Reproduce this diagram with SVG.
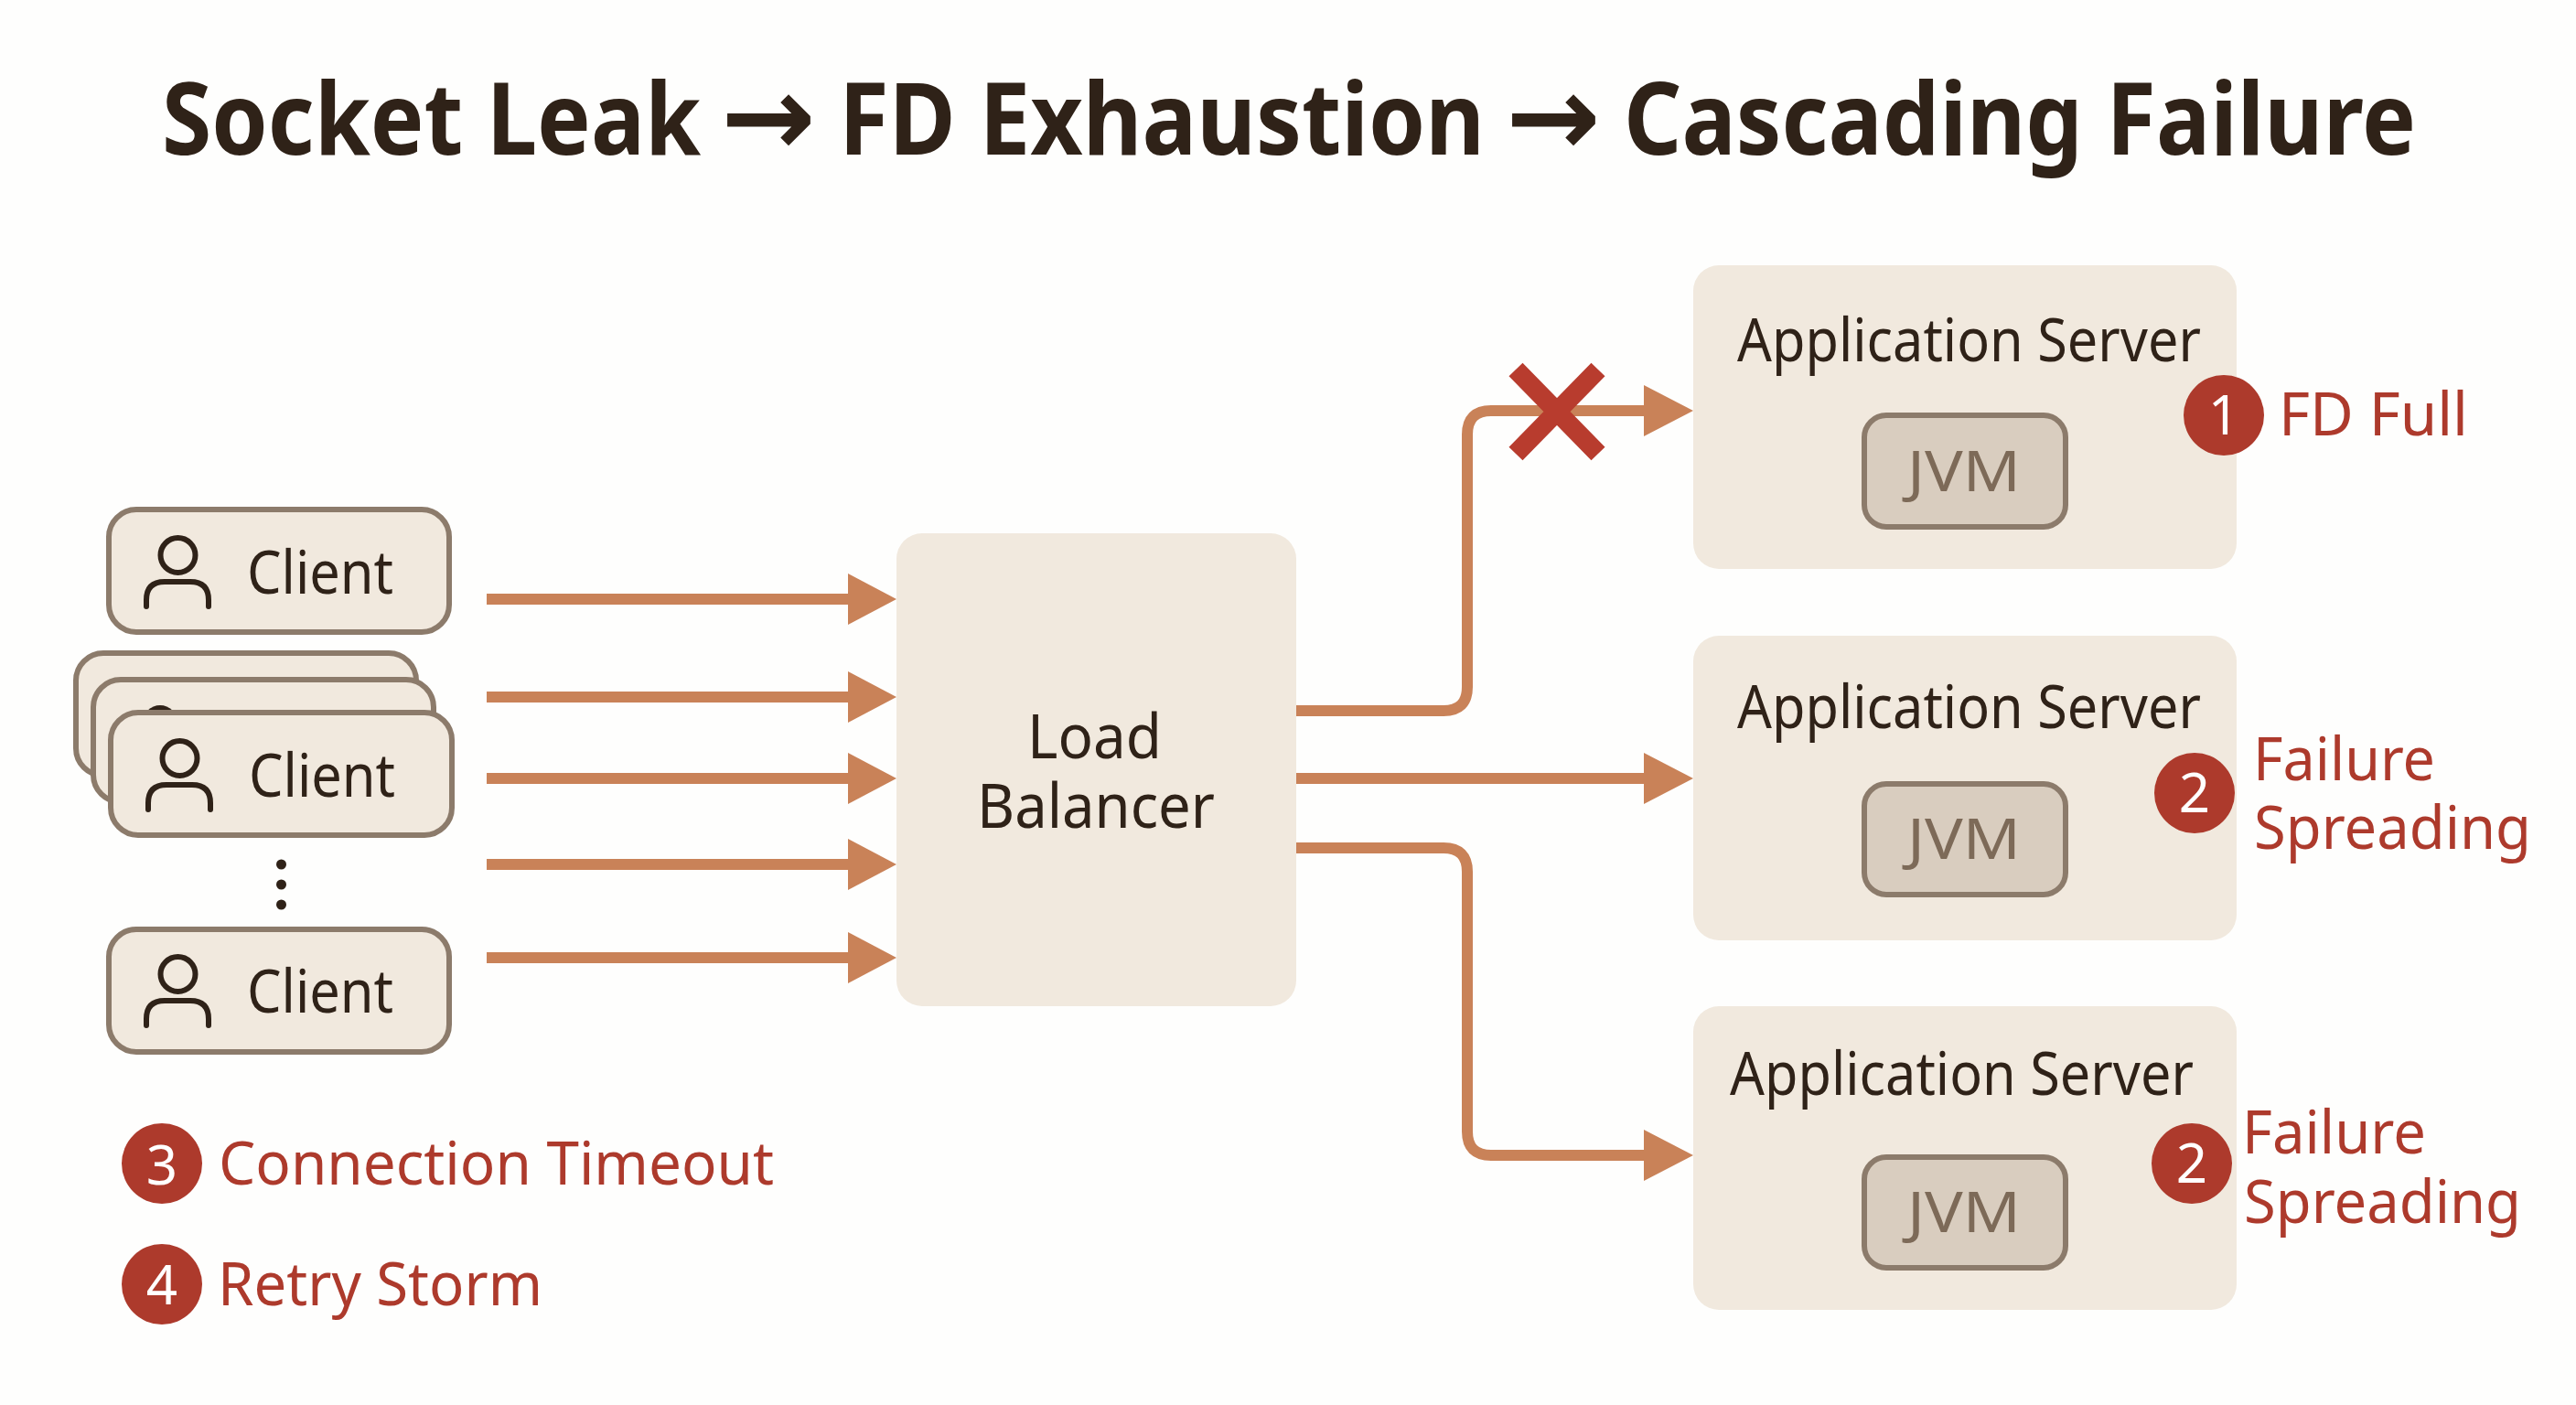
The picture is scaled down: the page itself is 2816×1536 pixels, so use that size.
<svg xmlns="http://www.w3.org/2000/svg" width="2816" height="1536" viewBox="0 0 2816 1536">
<style>
text{font-family:"Noto Sans","Open Sans","DejaVu Sans",sans-serif}
.title{font-size:110px;font-weight:700;fill:#2f2218}
.dark{font-size:65px;fill:#2f2218}
.lb{font-size:68px;fill:#2f2218}
.red{font-size:66px;fill:#ad3a2c}
.jvm{font-size:62px;fill:#7d6a58}
.num{font-size:60px;fill:#fff;text-anchor:middle}
.card{fill:#f1e9de;stroke:#8c7b6b;stroke-width:6}
.box{fill:#f1e9de}
.inner{fill:#d9cdbf;stroke:#8c7b6b;stroke-width:6}
.icon{fill:none;stroke:#2f2218;stroke-width:6;stroke-linecap:round}
.conn{fill:none;stroke:#c98258;stroke-width:12}
.head{fill:#c98258}
.badge{fill:#ad3a2c}
</style>
<rect width="2816" height="1536" fill="#fefefd"/>
<text id="title" class="title" y="169"><tspan x="177" textLength="589" lengthAdjust="spacingAndGlyphs">Socket Leak</tspan> <tspan x="788" y="170" font-size="124">→</tspan> <tspan x="917" y="169" textLength="706" lengthAdjust="spacingAndGlyphs">FD Exhaustion</tspan> <tspan x="1646" y="170" font-size="124">→</tspan> <tspan x="1775" y="169" textLength="866" lengthAdjust="spacingAndGlyphs">Cascading Failure</tspan></text>

<g id="client-1"><rect class="card" x="119" y="557" width="372" height="134" rx="30"/><circle class="icon" cx="194.500" cy="607" r="19"/><path class="icon" d="M160 663V656Q160 636 180 636H208Q228 636 228 656V663"/><text class="dark" x="270" y="649" textLength="160" lengthAdjust="spacingAndGlyphs">Client</text></g>
<g id="client-stack-back"><rect class="card" x="83" y="714" width="372" height="134" rx="30"/></g>
<g id="client-stack-middle"><rect class="card" x="102" y="743" width="372" height="134" rx="30"/><circle cx="175" cy="790" r="19" fill="#2f2218"/></g>
<g id="client-2"><rect class="card" x="121" y="779" width="373" height="134" rx="30"/><circle class="icon" cx="196.500" cy="829" r="19"/><path class="icon" d="M162 885V878Q162 858 182 858H210Q230 858 230 878V885"/><text class="dark" x="272" y="871" textLength="160" lengthAdjust="spacingAndGlyphs">Client</text></g>
<g id="ellipsis"><circle cx="307.500" cy="945" r="5.500" fill="#2f2218"/><circle cx="307.500" cy="967" r="5.500" fill="#2f2218"/><circle cx="307.500" cy="989" r="5.500" fill="#2f2218"/></g>
<g id="client-3"><rect class="card" x="119" y="1016" width="372" height="134" rx="30"/><circle class="icon" cx="194.500" cy="1065" r="19"/><path class="icon" d="M160 1121V1114Q160 1094 180 1094H208Q228 1094 228 1114V1121"/><text class="dark" x="270" y="1107" textLength="160" lengthAdjust="spacingAndGlyphs">Client</text></g>

<g id="load-balancer"><rect class="box" x="980" y="583" width="437" height="517" rx="28"/><text class="lb"><tspan x="1123" y="829" textLength="147" lengthAdjust="spacingAndGlyphs">Load</tspan> <tspan x="1068" y="905" textLength="260" lengthAdjust="spacingAndGlyphs">Balancer</tspan></text></g>

<g id="app-server-1"><rect class="box" x="1851" y="290" width="594" height="332" rx="28"/><text class="dark" x="1899" y="395" textLength="507" lengthAdjust="spacingAndGlyphs">Application Server</text><rect class="inner" x="2038" y="454" width="220" height="122" rx="24"/><text class="jvm" x="2085" y="537" textLength="124" lengthAdjust="spacingAndGlyphs">JVM</text></g>
<g id="app-server-2"><rect class="box" x="1851" y="695" width="594" height="333" rx="28"/><text class="dark" x="1899" y="796" textLength="507" lengthAdjust="spacingAndGlyphs">Application Server</text><rect class="inner" x="2038" y="857" width="220" height="121" rx="24"/><text class="jvm" x="2085" y="939" textLength="124" lengthAdjust="spacingAndGlyphs">JVM</text></g>
<g id="app-server-3"><rect class="box" x="1851" y="1100" width="594" height="332" rx="28"/><text class="dark" x="1891" y="1197" textLength="507" lengthAdjust="spacingAndGlyphs">Application Server</text><rect class="inner" x="2038" y="1265" width="220" height="121" rx="24"/><text class="jvm" x="2085" y="1347" textLength="124" lengthAdjust="spacingAndGlyphs">JVM</text></g>

<g id="connectors">
<path class="conn" d="M532 655H930"/><path class="head" d="M927 627L980 655L927 683Z"/>
<path class="conn" d="M532 762H930"/><path class="head" d="M927 734L980 762L927 790Z"/>
<path class="conn" d="M532 851H930"/><path class="head" d="M927 823L980 851L927 879Z"/>
<path class="conn" d="M532 945H930"/><path class="head" d="M927 917L980 945L927 973Z"/>
<path class="conn" d="M532 1047H930"/><path class="head" d="M927 1019L980 1047L927 1075Z"/>
<path class="conn" d="M1417 777H1578Q1604 777 1604 751V475Q1604 449 1630 449H1800"/><path class="head" d="M1797 421L1851 449L1797 477Z"/>
<path class="conn" d="M1417 851H1800"/><path class="head" d="M1797 823L1851 851L1797 879Z"/>
<path class="conn" d="M1417 927H1578Q1604 927 1604 953V1237Q1604 1263 1630 1263H1800"/><path class="head" d="M1797 1235L1851 1263L1797 1291Z"/>
</g>
<g id="blocked-mark"><path d="M1657 404L1747 496M1747 404L1657 496" fill="none" stroke="#b83c2e" stroke-width="21"/></g>

<g id="note-1"><circle class="badge" cx="2431" cy="454" r="44"/><text class="num" x="2431" y="475">1</text><text class="red" x="2491" y="476" textLength="207" lengthAdjust="spacingAndGlyphs">FD Full</text></g>
<g id="note-2"><circle class="badge" cx="2399" cy="867" r="44"/><text class="num" x="2399" y="888">2</text><text class="red"><tspan x="2463" y="853" textLength="199" lengthAdjust="spacingAndGlyphs">Failure</tspan> <tspan x="2464" y="928" textLength="303" lengthAdjust="spacingAndGlyphs">Spreading</tspan></text></g>
<g id="note-3"><circle class="badge" cx="2396" cy="1272" r="44"/><text class="num" x="2396" y="1293">2</text><text class="red"><tspan x="2451" y="1261" textLength="201" lengthAdjust="spacingAndGlyphs">Failure</tspan> <tspan x="2453" y="1337" textLength="303" lengthAdjust="spacingAndGlyphs">Spreading</tspan></text></g>
<g id="note-4"><circle class="badge" cx="177" cy="1272" r="44"/><text class="num" x="177" y="1295">3</text><text class="red" x="239" y="1295" textLength="607" lengthAdjust="spacingAndGlyphs">Connection Timeout</text></g>
<g id="note-5"><circle class="badge" cx="177" cy="1404" r="44"/><text class="num" x="177" y="1426">4</text><text class="red" x="238" y="1427" textLength="355" lengthAdjust="spacingAndGlyphs">Retry Storm</text></g>
</svg>
